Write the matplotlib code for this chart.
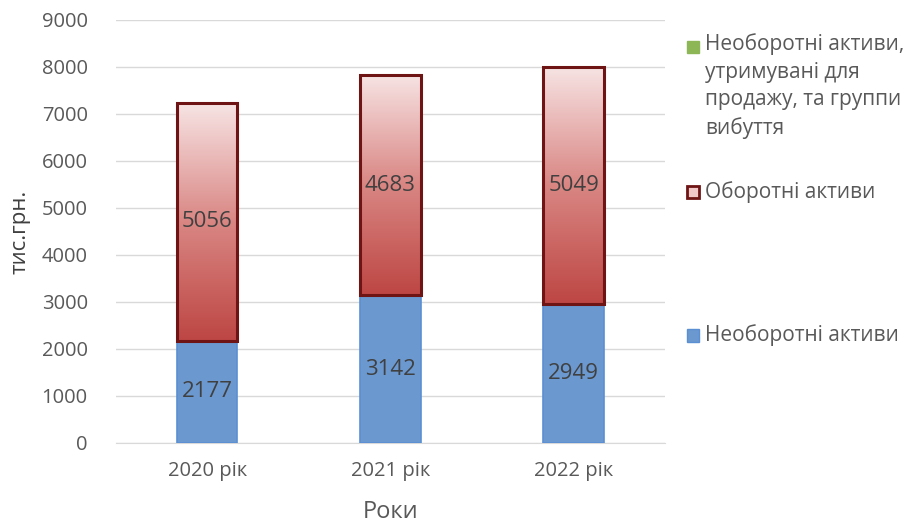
import numpy as np
import matplotlib.pyplot as plt
from matplotlib.patches import Rectangle
from matplotlib.colors import LinearSegmentedColormap

plt.rcParams['font.family'] = ['Open Sans', 'DejaVu Sans']

years = ['2020 рік', '2021 рік', '2022 рік']
non_current = [2177, 3142, 2949]
current = [5056, 4683, 5049]
held_for_sale = [0, 0, 0]

label_non_current = 'Необоротні активи'
label_current = 'Оборотні активи'
label_held = 'Необоротні активи,\nутримувані для\nпродажу, та группи\nвибуття'

text_col = '#595959'
blue = '#6a98cf'
blue_edge = '#5b8fd4'
red_edge = '#6e1414'
green = '#8db757'

fig = plt.figure(figsize=(9.1, 5.23), dpi=100)
ax = fig.add_axes([0.127, 0.153, 0.604, 0.809])

x = np.arange(len(years))
w = 0.33

b1 = ax.bar(x, non_current, w, color=blue, edgecolor=blue_edge, linewidth=1.2, zorder=3)
b2 = ax.bar(x, current, w, bottom=non_current, color='none', edgecolor=red_edge,
            linewidth=2.2, zorder=5)
ax.bar(x, held_for_sale, w, bottom=np.add(non_current, current), color=green,
       linewidth=0, zorder=3)

# vertical red gradient inside each current-assets bar
cmap = LinearSegmentedColormap.from_list('redgrad', ['#bd4643', '#d98683', '#f7e4e4'])
grad = np.linspace(0, 1, 256).reshape(-1, 1)
for p in b2:
    x0, y0 = p.get_x(), p.get_y()
    im = ax.imshow(grad, cmap=cmap, origin='lower', aspect='auto', zorder=4,
                   extent=[x0, x0 + p.get_width(), y0, y0 + p.get_height()])
    im.set_clip_path(Rectangle((x0, y0), p.get_width(), p.get_height(),
                               transform=ax.transData))

for i in range(len(years)):
    ax.text(x[i], non_current[i] / 2, str(non_current[i]), ha='center', va='center',
            fontsize=16, color='#404040', zorder=6)
    ax.text(x[i], non_current[i] + current[i] / 2, str(current[i]), ha='center',
            va='center', fontsize=16, color='#404040', zorder=6)

ax.set_xlim(-0.5, 2.5)
ax.set_ylim(0, 9000)
ax.set_yticks(range(0, 9001, 1000))
ax.set_xticks(x)
ax.set_xticklabels(years)
ax.tick_params(length=0, labelsize=14.5, colors=text_col)
ax.tick_params(axis='y', pad=20)
ax.tick_params(axis='x', pad=13)
ax.grid(axis='y', color='#d9d9d9', linewidth=1, zorder=0)
for s in ['top', 'right', 'left']:
    ax.spines[s].set_visible(False)
ax.spines['bottom'].set_color('#d9d9d9')
ax.set_ylabel('тис.грн.', fontsize=16, color='#404040', labelpad=8)
ax.set_xlabel('Роки', fontsize=17, color=text_col, labelpad=14)

# legend on the right
entries = [
    (label_held, dict(facecolor=green, edgecolor=green), 0.911),
    (label_current, dict(facecolor='#f0c8c8', edgecolor=red_edge, linewidth=2), 0.633),
    (label_non_current, dict(facecolor=blue, edgecolor=blue_edge), 0.359),
]
for text, style, yc in entries:
    fig.patches.append(Rectangle((0.755, yc - 0.012), 0.0132, 0.023,
                                 transform=fig.transFigure, **style))
    if '\n' in text:
        fig.text(0.775, yc + 0.026, text, fontsize=15, color=text_col, va='top',
                 linespacing=1.42)
    else:
        fig.text(0.775, yc, text, fontsize=15, color=text_col, va='center')

fig.savefig('out.png', dpi=100, facecolor='white')
